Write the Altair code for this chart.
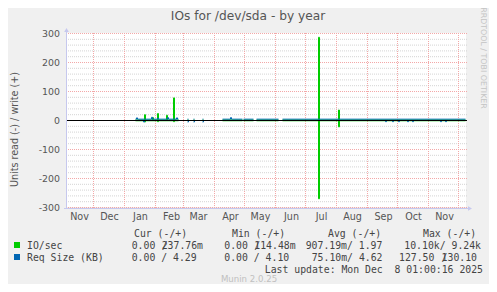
import altair as alt
import pandas as pd

# ---------------- texts ----------------
TITLE = "IOs for /dev/sda - by year"
Y_TITLE = "Units read (-) / write (+)"
SIDE_TEXT = "RRDTOOL / TOBI OETIKER"
FOOTER = "Munin 2.0.25"
LAST_UPDATE = "Last update: Mon Dec \u00a08 01:00:16 2025"

month_names = ["Nov", "Dec", "Jan", "Feb", "Mar", "Apr", "May", "Jun", "Jul", "Aug", "Sep", "Oct", "Nov"]
month_label_dates = ["2024-11-17", "2024-12-17", "2025-01-17", "2025-02-17", "2025-03-16", "2025-04-17",
                     "2025-05-17", "2025-06-17", "2025-07-17", "2025-08-17", "2025-09-17", "2025-10-17", "2025-11-17"]
month_grid_dates = ["2024-12-01", "2025-01-01", "2025-02-01", "2025-03-01", "2025-04-01", "2025-05-01",
                    "2025-06-01", "2025-07-01", "2025-08-01", "2025-09-01", "2025-10-01", "2025-11-01", "2025-12-01"]
y_major = [-300, -200, -100, 0, 100, 200, 300]
y_minor = [-280, -260, -240, -220, -180, -160, -140, -120, -80, -60, -40, -20,
           20, 40, 60, 80, 120, 140, 160, 180, 220, 240, 260, 280]

# legend
legend_names = ["IO/sec", "Req Size (KB)"]
legend_headers = ["Cur (-/+)", "Min (-/+)", "Avg (-/+)", "Max (-/+)"]
cur_read = ["0.00", "0.00"]
cur_write = ["237.76m", "4.29"]
min_read = ["0.00", "0.00"]
min_write = ["114.48m", "4.10"]
avg_read = ["907.19m", "75.10m"]
avg_write = ["1.97", "4.62"]
max_read = ["10.10k", "127.50"]
max_write = ["9.24k", "130.10"]

# ---------------- data ----------------
# periods in which the device reported data
seg_start = ["2025-01-12", "2025-03-05", "2025-03-11", "2025-03-20", "2025-04-09", "2025-04-30", "2025-05-13", "2025-06-08"]
seg_end = ["2025-02-24", "2025-03-06", "2025-03-12", "2025-03-21", "2025-04-29", "2025-05-10", "2025-06-04", "2025-12-08"]

# typical level (legend averages)
io_write_base = 1.97
io_read_base = 0.91
req_write_base = 4.62
req_read_base = 0.08

# daily peaks
io_write_peak_dates = ["2025-01-21", "2025-01-29", "2025-02-03", "2025-02-12", "2025-02-19", "2025-07-14", "2025-08-03"]
io_write_peak_vals = [20, 10, 24, 18, 78, 287, 36]
io_read_peak_dates = ["2025-01-21", "2025-02-03", "2025-02-19", "2025-07-14", "2025-08-03"]
io_read_peak_vals = [5, 4, 4, 270, 22]
req_write_peak_dates = ["2025-01-13", "2025-01-28", "2025-02-03", "2025-02-13", "2025-02-22", "2025-04-17"]
req_write_peak_vals = [9, 11, 8, 10, 9, 10]
req_read_peak_dates = ["2025-01-20", "2025-03-05", "2025-03-11", "2025-03-20", "2025-09-19", "2025-09-26",
                       "2025-10-02", "2025-10-11", "2025-10-16", "2025-11-13", "2025-11-18"]
req_read_peak_vals = [5, 5, 5, 5, 4, 4, 4, 4, 4, 4, 4]


def build(name, base, sign, peak_dates, peak_vals):
    rows = []
    peaks = {pd.Timestamp(d): v for d, v in zip(peak_dates, peak_vals)}
    for i, (s, e) in enumerate(zip(seg_start, seg_end)):
        s, e = pd.Timestamp(s), pd.Timestamp(e)
        pts = {s: base, e: base}
        for d, v in peaks.items():
            if s <= d < e:
                pts[d] = v
        for d in list(peaks):
            nxt = d + pd.Timedelta(days=1)
            if s <= d < e and nxt not in peaks and nxt < e:
                pts[nxt] = base
        for d in sorted(pts):
            rows.append({"t": d, "v": sign * pts[d], "s": name, "g": f"{name}{i}"})
    return rows


rows = (build("io_w", io_write_base, 1, io_write_peak_dates, io_write_peak_vals)
        + build("io_r", io_read_base, -1, io_read_peak_dates, io_read_peak_vals)
        + build("req_w", req_write_base, 1, req_write_peak_dates, req_write_peak_vals)
        + build("req_r", req_read_base, -1, req_read_peak_dates, req_read_peak_vals))
series = pd.DataFrame(rows)

# ---------------- styling ----------------
GREEN = "#00CC00"
BLUE = "#0066B3"
AXIS_COL = "#c6c8ee"
GRID_RED = "#f3a8a8"
GRID_GREY = "#d4d4d4"
TXT = "#555555"
OX, OY = 66, 33  # page position of the plot origin
W, H = 400, 174

# half-pixel ranges keep the 1px grid lines crisp
xs = alt.Scale(domain=[alt.DateTime(year=2024, month=11, date=4),
                       alt.DateTime(year=2025, month=12, date=9)], range=[0.5, W + 0.5])
ys = alt.Scale(domain=[-300, 300], nice=False, zero=False, range=[H + 0.5, 0.5])


def text_at(txt, px, py, size=9.8, font="DejaVu Sans Mono", color="#444444", align="left", angle=0):
    return alt.Chart(pd.DataFrame({"s": [txt]})).mark_text(
        align=align, baseline="middle", font=font, fontSize=size, color=color, angle=angle
    ).encode(x=alt.value(px - OX), y=alt.value(py - OY), text="s:N")


minor_grid = alt.Chart(pd.DataFrame({"v": y_minor})).mark_rule(
    color=GRID_GREY, strokeDash=[1, 1], strokeWidth=1
).encode(y=alt.Y("v:Q", scale=ys, axis=None), x=alt.value(0), x2=alt.value(W + 1))

major_grid = alt.Chart(pd.DataFrame({"v": y_major})).mark_rule(
    color=GRID_RED, strokeDash=[1, 1], strokeWidth=1
).encode(y=alt.Y("v:Q", scale=ys, axis=None), x=alt.value(0), x2=alt.value(W + 1))

month_grid = alt.Chart(pd.DataFrame({"t": pd.to_datetime(month_grid_dates)})).mark_rule(
    color=GRID_RED, strokeDash=[1, 1], strokeWidth=1
).encode(x=alt.X("t:T", scale=xs, axis=None), y=alt.value(0), y2=alt.value(H + 1))

lines = alt.Chart(series).mark_line(interpolate="step-after", strokeWidth=1).encode(
    x=alt.X("t:T", scale=xs, axis=None),
    y=alt.Y("v:Q", scale=ys, axis=None),
    detail="g:N",
    color=alt.Color("s:N", scale=alt.Scale(domain=["io_w", "io_r", "req_w", "req_r"],
                                           range=[GREEN, GREEN, BLUE, BLUE]), legend=None),
    order=alt.Order("t:T"),
)
green_lines = lines.transform_filter(alt.FieldOneOfPredicate(field="s", oneOf=["io_w", "io_r"]))
blue_lines = lines.transform_filter(alt.FieldOneOfPredicate(field="s", oneOf=["req_w", "req_r"]))

zero_line = alt.Chart(pd.DataFrame({"v": [0]})).mark_rule(color="#000000", strokeWidth=1).encode(
    y=alt.Y("v:Q", scale=ys, axis=None), x=alt.value(0), x2=alt.value(W + 1))

y_labels = alt.Chart(pd.DataFrame({"v": y_major, "lab": [str(v) for v in y_major]})).mark_text(
    align="right", baseline="middle", font="DejaVu Sans", fontSize=9.4, color=TXT
).encode(y=alt.Y("v:Q", scale=ys, axis=None), x=alt.value(60 - OX), text="lab:N")

x_labels = alt.Chart(pd.DataFrame({"t": pd.to_datetime(month_label_dates), "m": month_names})).mark_text(
    align="center", baseline="middle", font="DejaVu Sans", fontSize=9.6, color=TXT
).encode(x=alt.X("t:T", scale=xs, axis=None), y=alt.value(216.5 - OY), text="m:N")

one = pd.DataFrame({"k": [0]})
y_axis_line = alt.Chart(one).mark_rule(color=AXIS_COL, strokeWidth=1).encode(
    x=alt.value(0.5), y=alt.value(-3), y2=alt.value(H + 2))
x_axis_line = alt.Chart(one).mark_rule(color=AXIS_COL, strokeWidth=1).encode(
    y=alt.value(H + 1.5), x=alt.value(-2), x2=alt.value(W + 4))
y_arrow = alt.Chart(one).mark_point(shape="triangle-up", filled=True, size=22, color=AXIS_COL, opacity=1).encode(
    x=alt.value(0.5), y=alt.value(-3))
x_arrow = alt.Chart(one).mark_point(shape="triangle-right", filled=True, size=22, color=AXIS_COL, opacity=1).encode(
    x=alt.value(W + 4), y=alt.value(H + 1.5))

green_sq = alt.Chart(one).mark_rect(color=GREEN).encode(
    x=alt.value(14 - OX), x2=alt.value(20 - OX), y=alt.value(242 - OY), y2=alt.value(248 - OY))
blue_sq = alt.Chart(one).mark_rect(color=BLUE).encode(
    x=alt.value(14 - OX), x2=alt.value(20 - OX), y=alt.value(254 - OY), y2=alt.value(260 - OY))

r0, r1, r2 = 233.5, 245.7, 257.7
texts = [
    text_at(TITLE, 248, 15.5, size=12.2, font="DejaVu Sans", color=TXT, align="center"),
    text_at(Y_TITLE, 15, 129.5, size=9.6, font="DejaVu Sans", color=TXT, align="center", angle=270),
    text_at(SIDE_TEXT, 483, 58, size=7.9, font="DejaVu Sans", color="#c4c4c4", align="center", angle=90),
    text_at(legend_headers[0], 134, r0),
    text_at(legend_headers[1], 232, r0),
    text_at(legend_headers[2], 328, r0),
    text_at(legend_headers[3], 423, r0),
    text_at(legend_names[0], 27, r1),
    text_at(legend_names[1], 27, r2),
    # IO/sec row
    text_at(cur_read[0], 131.7, r1), text_at("/", 161.7, r1), text_at(cur_write[0], 161.7, r1),
    text_at(min_read[0], 224.3, r1), text_at("/", 254.3, r1), text_at(min_write[0], 254.3, r1),
    text_at(f"{avg_read[0]}/ {avg_write[0]}", 305.7, r1),
    text_at(f"{max_read[0]}/ {max_write[0]}", 404.3, r1),
    # Req size row
    text_at(f"{cur_read[1]} / {cur_write[1]}", 131.7, r2),
    text_at(f"{min_read[1]} / {min_write[1]}", 224.3, r2),
    text_at(f"{avg_read[1]}/ {avg_write[1]}", 311.7, r2),
    text_at(max_read[1], 399, r2), text_at("/", 441.6, r2), text_at(max_write[1], 441.6, r2),
    text_at(LAST_UPDATE, 483, 269.7, align="right"),
    text_at(FOOTER, 249, 279.0, size=8.6, font="DejaVu Sans", color="#c0c0c0", align="center"),
]

chart = alt.layer(
    minor_grid, major_grid, month_grid, green_lines, blue_lines, zero_line,
    y_axis_line, x_axis_line, y_arrow, x_arrow, y_labels, x_labels, green_sq, blue_sq, *texts
).properties(
    width=W, height=H,
    autosize=alt.AutoSizeParams(type="none"),
    padding={"left": 58, "top": 25, "right": 23, "bottom": 77},
    background="#f0f0f0",
).configure_view(fill="white", strokeWidth=0)

chart.save("out.html", embed_options={"renderer": "svg", "actions": False})
